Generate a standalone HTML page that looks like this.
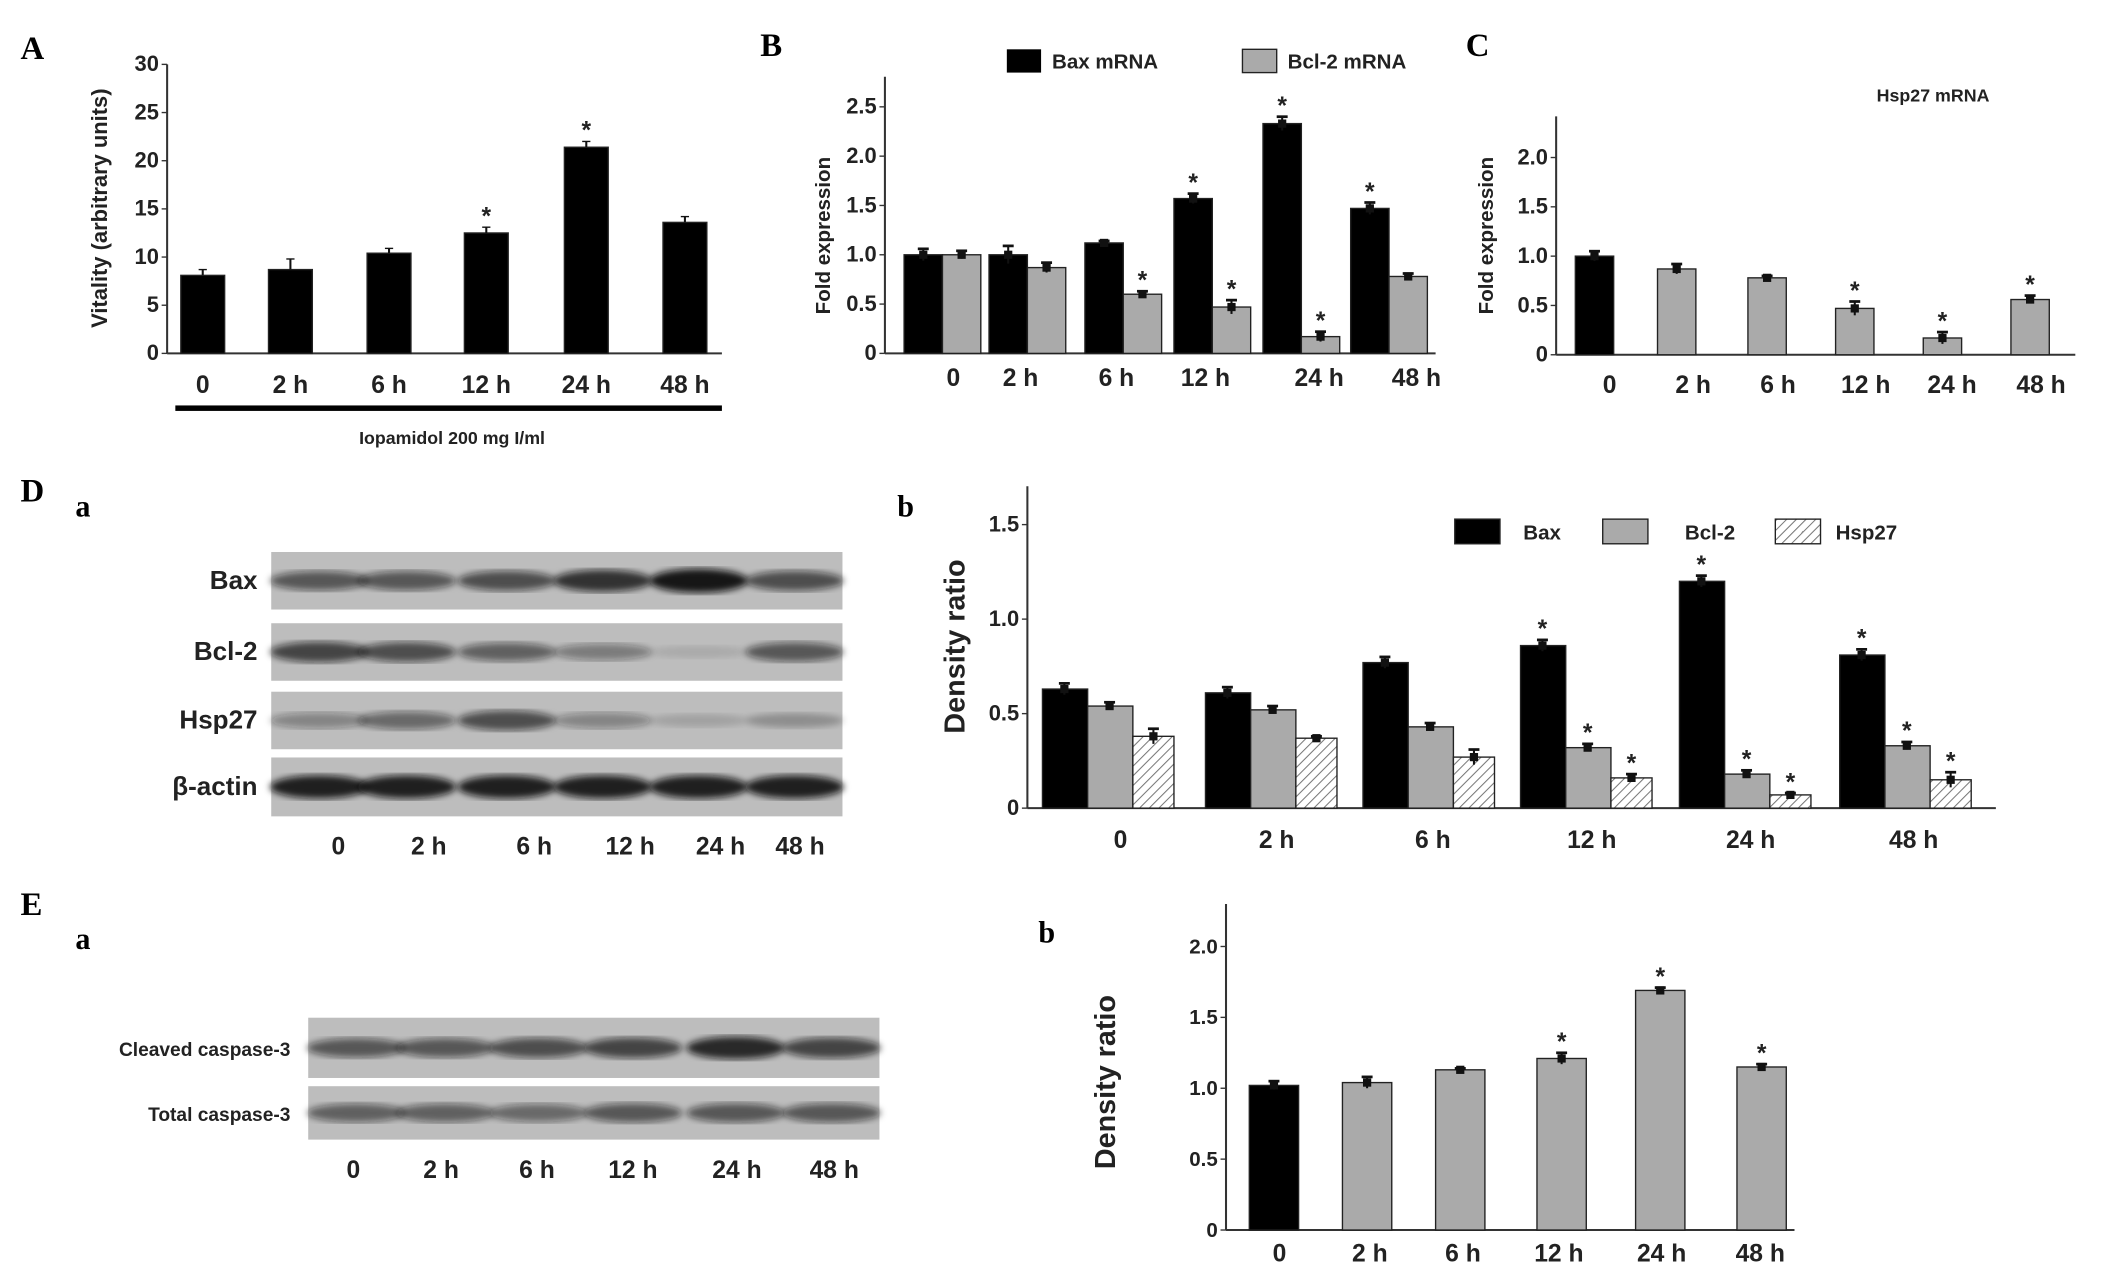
<!DOCTYPE html>
<html><head><meta charset="utf-8"><style>
html,body{margin:0;padding:0;background:#fff}
svg{display:block;font-family:"Liberation Sans",Arial,sans-serif}
</style></head><body>
<svg id="fig" width="2126" height="1267" viewBox="0 0 1552 925" preserveAspectRatio="none">
<defs>
<pattern id="hatch" width="5" height="5" patternUnits="userSpaceOnUse" patternTransform="rotate(45)">
<rect width="5" height="5" fill="#fff"/><line x1="0" y1="0" x2="0" y2="5" stroke="#777" stroke-width="1.5"/></pattern>
<filter id="blur"><feGaussianBlur stdDeviation="2.5"/></filter>
</defs>
<g font-family="Liberation Serif,serif" font-weight="bold" font-size="24">
<text x="15" y="43">A</text><text x="555" y="41">B</text><text x="1070" y="41">C</text>
<text x="15" y="366">D</text><text x="55" y="377" font-size="22">a</text><text x="655" y="377" font-size="22">b</text>
<text x="15" y="668">E</text><text x="55" y="693" font-size="22">a</text><text x="758" y="688" font-size="22">b</text>
</g>
<g id="blots"></g>
<g id="charts"></g>
</svg>
<script>
// ---- data ----
const catsA = ["0","2 h","6 h","12 h","24 h","48 h"];
const valsA = [8.1, 8.7, 10.4, 12.5, 21.4, 13.6];
const errA = [0.6, 1.1, 0.5, 0.6, 0.6, 0.6];
const sigA = [0,0,0,1,1,0];
const ticksA = [0,5,10,15,20,25,30];

const baxB = [1.0, 1.0, 1.12, 1.57, 2.33, 1.47];
const baxErrB = [0.06, 0.09, 0.02, 0.05, 0.07, 0.06];
const bclB = [1.0, 0.87, 0.6, 0.47, 0.17, 0.78];
const bclErrB = [0.04, 0.05, 0.03, 0.07, 0.05, 0.03];
const sigBaxB = [0,0,0,1,1,1];
const sigBclB = [0,0,1,1,1,0];
const ticksB = [0,0.5,1.0,1.5,2.0,2.5];

const hspC = [1.0, 0.87, 0.78, 0.47, 0.17, 0.56];
const hspErrC = [0.05, 0.05, 0.02, 0.07, 0.06, 0.04];
const sigC = [0,0,0,1,1,1];
const ticksC = [0,0.5,1.0,1.5,2.0];

const baxD = [0.63, 0.61, 0.77, 0.86, 1.2, 0.81];
const baxErrD = [0.03, 0.03, 0.03, 0.03, 0.03, 0.03];
const bclD = [0.54, 0.52, 0.43, 0.32, 0.18, 0.33];
const bclErrD = [0.02, 0.02, 0.02, 0.02, 0.02, 0.02];
const hspD = [0.38, 0.37, 0.27, 0.16, 0.07, 0.15];
const hspErrD = [0.04, 0.01, 0.04, 0.02, 0.01, 0.04];
const sigD = [0,0,0,1,1,1];
const ticksD = [0,0.5,1.0,1.5];

const valsE = [1.02, 1.04, 1.13, 1.21, 1.69, 1.15];
const errE = [0.03, 0.04, 0.01, 0.04, 0.02, 0.02];
const sigE = [0,0,0,1,1,1];
const ticksE = [0,0.5,1.0,1.5,2.0];

const blotDLabels = ["Bax","Bcl-2","Hsp27","β-actin"];
const blotDIntensity = [[0.6,0.6,0.65,0.8,0.95,0.65],[0.7,0.65,0.55,0.4,0.1,0.6],[0.35,0.5,0.65,0.35,0.15,0.25],[0.9,0.9,0.9,0.9,0.9,0.9]];
const blotELabels = ["Cleaved caspase-3","Total caspase-3"];
const blotEIntensity = [[0.6,0.6,0.65,0.7,0.85,0.7],[0.55,0.55,0.5,0.6,0.6,0.6]];

// ---- helpers ----
const NS="http://www.w3.org/2000/svg";
const charts=document.getElementById('charts');
const blots=document.getElementById('blots');
function mk(tag,attrs,parent,txt){const e=document.createElementNS(NS,tag);for(const k in attrs)e.setAttribute(k,attrs[k]);if(txt!==undefined)e.textContent=txt;parent.appendChild(e);return e;}

function axes(g,cfg){
  const y=v=>cfg.y0-(v-cfg.ymin)/(cfg.ymax-cfg.ymin)*(cfg.y0-cfg.ytop);
  const ax=mk('line',{x1:cfg.x0,y1:cfg.axTop,x2:cfg.x0,y2:cfg.y0,stroke:'#333','stroke-width':1.5},g);
  
  const bx=mk('line',{x1:cfg.x0,y1:cfg.y0,x2:cfg.x1,y2:cfg.y0,stroke:'#333','stroke-width':1.5},g);
  
  cfg.ticks.forEach(t=>{
    mk('line',{x1:cfg.x0-4,y1:y(t),x2:cfg.x0,y2:y(t),stroke:'#333'},g);
    const tl=mk('text',{x:cfg.x0-6,y:y(t)+5,'text-anchor':'end','font-size':cfg.tfs||15,'font-weight':'bold',fill:'#222'},g,cfg.fmt?cfg.fmt(t):String(t));
    
  });
  return y;
}
function bar(g,x,w,top,bot,fill,name){
  const r=mk('rect',{x:x,y:top,width:w,height:bot-top,fill:fill,stroke:'#222','stroke-width':1},g);
  
}
function err(g,cx,yv,ye){mk('line',{x1:cx,y1:ye,x2:cx,y2:yv+(yv-ye),stroke:'#111','stroke-width':1.5},g);mk('line',{x1:cx-4,y1:ye,x2:cx+4,y2:ye,stroke:'#111','stroke-width':2},g);mk('rect',{x:cx-3,y:yv-3,width:6,height:6,fill:'#111'},g);}
function star(g,cx,yy){const s=mk('text',{x:cx,y:yy,'text-anchor':'middle','font-size':18,'font-weight':'bold',fill:'#222'},g,'*');}
function xlabels(g,xs,yy,fs){catsA.forEach((c,i)=>{const t=mk('text',{x:xs[i],y:yy,'text-anchor':'middle','font-size':fs||17,'font-weight':'bold',fill:'#222'},g,c);});}
function ytitle(g,x,y,txt,fs){const t=mk('text',{x:x,y:y,'text-anchor':'middle','font-size':fs,'font-weight':'bold',fill:'#222',transform:`rotate(-90 ${x} ${y})`},g,txt);}

// ---- Chart A ----
{const g=mk('g',{},charts);
const y=axes(g,{x0:122,x1:527,y0:258,ytop:47,axTop:47,ymin:0,ymax:30,ticks:ticksA,tfs:16});
const xs=[148,212,284,355,428,500];
valsA.forEach((v,i)=>{bar(g,xs[i]-16,32,y(v),258,'#000','bar-a-'+catsA[i]);mk('line',{x1:xs[i],y1:y(v),x2:xs[i],y2:y(v+errA[i]),stroke:'#111','stroke-width':1.5},g);mk('line',{x1:xs[i]-3,y1:y(v+errA[i]),x2:xs[i]+3,y2:y(v+errA[i]),stroke:'#111'},g);if(sigA[i])star(g,xs[i],y(v+errA[i])-2);});
xlabels(g,xs,287,18);
ytitle(g,78,152,'Vitality (arbitrary units)',16);
const ln=mk('rect',{x:128,y:296,width:399,height:4,fill:'#000'},g);
const tt=mk('text',{x:330,y:324,'text-anchor':'middle','font-size':13,'font-weight':'bold',fill:'#222'},g,'Iopamidol 200 mg I/ml');}

// ---- Chart B ----
{const g=mk('g',{},charts);
const y=axes(g,{x0:646,x1:1048,y0:258,ytop:78,axTop:56,ymin:0,ymax:2.5,ticks:ticksB,fmt:t=>t===0?'0':t.toFixed(1),tfs:16});
const gx=[688,750,820,885,950,1014];
baxB.forEach((v,i)=>{bar(g,gx[i]-28,28,y(v),258,'#000','bar-bax-mrna');err(g,gx[i]-14,y(v),y(v+baxErrB[i]));if(sigBaxB[i])star(g,gx[i]-14,y(v+baxErrB[i])-2);
 const b=bclB[i];bar(g,gx[i],28,y(b),258,'#aaa','bar-bcl2-mrna');err(g,gx[i]+14,y(b),y(b+bclErrB[i]));if(sigBclB[i])star(g,gx[i]+14,y(b+bclErrB[i])-2);});
xlabels(g,[696,745,815,880,963,1034],282,18);
ytitle(g,606,172,'Fold expression',15);
const l1=mk('rect',{x:735,y:36,width:25,height:17,fill:'#000'},g);
const t1=mk('text',{x:768,y:50,'font-size':15,'font-weight':'bold',fill:'#222'},g,'Bax mRNA');
const l2=mk('rect',{x:907,y:36,width:25,height:17,fill:'#aaa',stroke:'#222'},g);
const t2=mk('text',{x:940,y:50,'font-size':15,'font-weight':'bold',fill:'#222'},g,'Bcl-2 mRNA');}

// ---- Chart C ----
{const g=mk('g',{},charts);
const y=axes(g,{x0:1136,x1:1515,y0:259,ytop:115,axTop:85,ymin:0,ymax:2.0,ticks:ticksC,fmt:t=>t===0?'0':t.toFixed(1),tfs:16});
const xs=[1164,1224,1290,1354,1418,1482];
hspC.forEach((v,i)=>{bar(g,xs[i]-14,28,y(v),259,i===0?'#000':'#aaa','bar-hsp27-mrna');err(g,xs[i],y(v),y(v+hspErrC[i]));if(sigC[i])star(g,xs[i],y(v+hspErrC[i])-2);});
xlabels(g,[1175,1236,1298,1362,1425,1490],287,18);
ytitle(g,1090,172,'Fold expression',15);
const t=mk('text',{x:1370,y:74,'font-size':13,'font-weight':'bold',fill:'#222'},g,'Hsp27 mRNA');}

// ---- Chart D b ----
{const g=mk('g',{},charts);
const y=axes(g,{x0:750,x1:1457,y0:590,ytop:383,axTop:355,ymin:0,ymax:1.5,ticks:ticksD,fmt:t=>t===0?'0':t.toFixed(1),tfs:16});
const gx=[761,880,995,1110,1226,1343];
baxD.forEach((v,i)=>{const x=gx[i];
 bar(g,x,33,y(v),590,'#000','bar-bax-protein');err(g,x+16,y(v),y(v+baxErrD[i]));if(sigD[i])star(g,x+16,y(v+baxErrD[i])-2);
 bar(g,x+33,33,y(bclD[i]),590,'#aaa','bar-bcl2-protein');err(g,x+49,y(bclD[i]),y(bclD[i]+bclErrD[i]));if(sigD[i])star(g,x+49,y(bclD[i]+bclErrD[i])-2);
 bar(g,x+66,30,y(hspD[i]),590,'url(#hatch)','bar-hsp27-protein');err(g,x+81,y(hspD[i]),y(hspD[i]+hspErrD[i]));if(sigD[i])star(g,x+81,y(hspD[i]+hspErrD[i])-2);});
xlabels(g,[818,932,1046,1162,1278,1397],619,18);
ytitle(g,704,472,'Density ratio',21);
[['#000','Bax',1062,1112],['#aaa','Bcl-2',1170,1230],['url(#hatch)','Hsp27',1296,1340]].forEach(l=>{
 const r=mk('rect',{x:l[2],y:379,width:33,height:18,fill:l[0],stroke:'#222'},g);
 const t=mk('text',{x:l[3],y:394,'font-size':15,'font-weight':'bold',fill:'#222'},g,l[1]);});}

// ---- Chart E b ----
{const g=mk('g',{},charts);
const y=axes(g,{x0:895,x1:1310,y0:898,ytop:691,axTop:660,ymin:0,ymax:2.0,ticks:ticksE,fmt:t=>t===0?'0':t.toFixed(1),tfs:15});
const xs=[930,998,1066,1140,1212,1286];
valsE.forEach((v,i)=>{bar(g,xs[i]-18,36,y(v),898,i===0?'#000':'#aaa','bar-caspase3');err(g,xs[i],y(v),y(v+errE[i]));if(sigE[i])star(g,xs[i],y(v+errE[i])-2);});
xlabels(g,[934,1000,1068,1138,1213,1285],921,18);
ytitle(g,814,790,'Density ratio',21);}

// ---- blots ----
function blot(x,w,rows,lanes,labels,inten,labX,fs,name){
 const g=mk('g',{},blots);
 rows.forEach((r,ri)=>{
  const bg=mk('rect',{x:x,y:r[0],width:w,height:r[1]-r[0],fill:'#bdbdbd'},g);
  const cy=(r[0]+r[1])/2;
  lanes.forEach((lx,li)=>{const a=inten[ri][li];mk('ellipse',{cx:lx,cy:cy,rx:36,ry:4+a*5,fill:'#111','fill-opacity':a,filter:'url(#blur)'},g);});
  const t=mk('text',{x:labX,y:cy+6,'text-anchor':'end','font-size':fs,'font-weight':'bold',fill:'#222'},g,labels[ri]);
 });
}
blot(198,417,[[403,445],[455,497],[505,547],[553,596]],[233,297,370,440,510,580],blotDLabels,blotDIntensity,188,19,'western-blot-d');
blot(225,417,[[743,787],[793,832]],[260,325,393,462,537,607],blotELabels,blotEIntensity,212,14,'western-blot-e');
{const g=mk('g',{},blots);const xs=[247,313,390,460,526,584];catsA.forEach((c,i)=>{const t=mk('text',{x:xs[i],y:624,'text-anchor':'middle','font-size':18,'font-weight':'bold',fill:'#222'},g,c);});
const xe=[258,322,392,462,538,609];catsA.forEach((c,i)=>{const t=mk('text',{x:xe[i],y:860,'text-anchor':'middle','font-size':18,'font-weight':'bold',fill:'#222'},g,c);});}
</script>
</body></html>
